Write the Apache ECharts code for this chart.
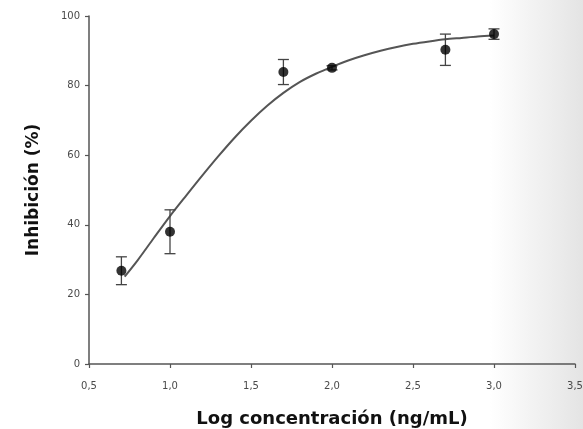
<!DOCTYPE html>
<html>
<head>
<meta charset="utf-8">
<script src="https://cdn.jsdelivr.net/npm/echarts@6/dist/echarts.min.js"></script>
<style>
html,body{margin:0;padding:0;background:#fff;}
#chart{width:583px;height:429px;}
</style>
</head>
<body>
<div id="chart"></div>
<script>
// Measured points (log concentration, inhibition %, error)
var pointX = [0.7, 1.0, 1.7, 2.0, 2.7, 3.0];
var pointY = [26.8, 38.0, 83.9, 85.1, 90.3, 94.8];
var pointErr = [4.0, 6.3, 3.6, 0.6, 4.5, 1.5];

// Fitted curve
var curveX = [0.72, 0.8, 0.9, 1.0, 1.1, 1.2, 1.3, 1.4, 1.5, 1.6, 1.7, 1.8, 1.9, 2.0, 2.1, 2.2, 2.3, 2.4, 2.5, 2.6, 2.7, 2.8, 2.9, 3.0];
var curveY = [25.1, 29.8, 36.2, 42.5, 48.4, 54.2, 59.8, 65.1, 69.9, 74.2, 77.9, 81.0, 83.4, 85.4, 87.2, 88.7, 90.0, 91.1, 92.0, 92.7, 93.3, 93.7, 94.1, 94.4];

var xTitle = 'Log concentración (ng/mL)';
var yTitle = 'Inhibición (%)';

var points = pointX.map(function (x, i) { return [x, pointY[i]]; });
var errors = pointX.map(function (x, i) { return [x, pointY[i] - pointErr[i], pointY[i] + pointErr[i]]; });
var curve = curveX.map(function (x, i) { return [x, curveY[i]]; });

var chart = echarts.init(document.getElementById('chart'), null, {renderer: 'canvas'});
var axisColor = '#555555';
var labelColor = '#4a4a4a';
chart.setOption({
  backgroundColor: '#ffffff',
  animation: false,
  graphic: [{
    type: 'rect', z: -100, silent: true,
    shape: {x: 490, y: 0, width: 93, height: 429},
    style: {fill: new echarts.graphic.LinearGradient(0, 0, 1, 0, [
      {offset: 0, color: '#ffffff'}, {offset: 1, color: '#e4e4e4'}])}
  }],
  grid: {left: 89, right: 8, top: 16, bottom: 65, containLabel: false, outerBoundsMode: 'none'},
  xAxis: {
    type: 'value', min: 0.5, max: 3.5, interval: 0.5,
    name: xTitle, nameLocation: 'middle', nameGap: 46,
    nameTextStyle: {fontFamily: 'DejaVu Sans', fontWeight: 'bold', fontSize: 18, color: '#111'},
    axisLine: {lineStyle: {color: axisColor, width: 1.5}},
    axisTick: {show: true, length: 4, lineStyle: {color: axisColor, width: 1.2}},
    axisLabel: {fontFamily: 'DejaVu Sans', fontSize: 10, color: labelColor, margin: 17,
      formatter: function (v) { return v.toFixed(1).replace('.', ','); }},
    splitLine: {show: false}
  },
  yAxis: {
    type: 'value', min: 0, max: 100, interval: 20,
    name: yTitle, nameLocation: 'middle', nameGap: 47,
    nameTextStyle: {fontFamily: 'DejaVu Sans', fontWeight: 'bold', fontSize: 17, color: '#111'},
    axisLine: {show: true, lineStyle: {color: axisColor, width: 1.5}},
    axisTick: {show: true, length: 4, lineStyle: {color: axisColor, width: 1.2}},
    axisLabel: {fontFamily: 'DejaVu Sans', fontSize: 10, color: labelColor, margin: 9},
    splitLine: {show: false}
  },
  series: [{
    type: 'line', data: curve, smooth: 0.3, showSymbol: false,
    lineStyle: {color: '#555555', width: 2}, z: 2
  }, {
    type: 'custom', data: errors, z: 3,
    renderItem: function (params, api) {
      var x = api.value(0);
      var lo = api.coord([x, api.value(1)]);
      var hi = api.coord([x, api.value(2)]);
      var half = 5.5;
      var style = {stroke: '#444', lineWidth: 1.3};
      return {type: 'group', children: [
        {type: 'line', shape: {x1: lo[0], y1: lo[1], x2: hi[0], y2: hi[1]}, style: style},
        {type: 'line', shape: {x1: lo[0] - half, y1: lo[1], x2: lo[0] + half, y2: lo[1]}, style: style},
        {type: 'line', shape: {x1: hi[0] - half, y1: hi[1], x2: hi[0] + half, y2: hi[1]}, style: style}
      ]};
    }
  }, {
    type: 'scatter', data: points, symbol: 'circle', symbolSize: 10,
    itemStyle: {color: '#000000'}, z: 4
  }]
});
</script>
</body>
</html>
